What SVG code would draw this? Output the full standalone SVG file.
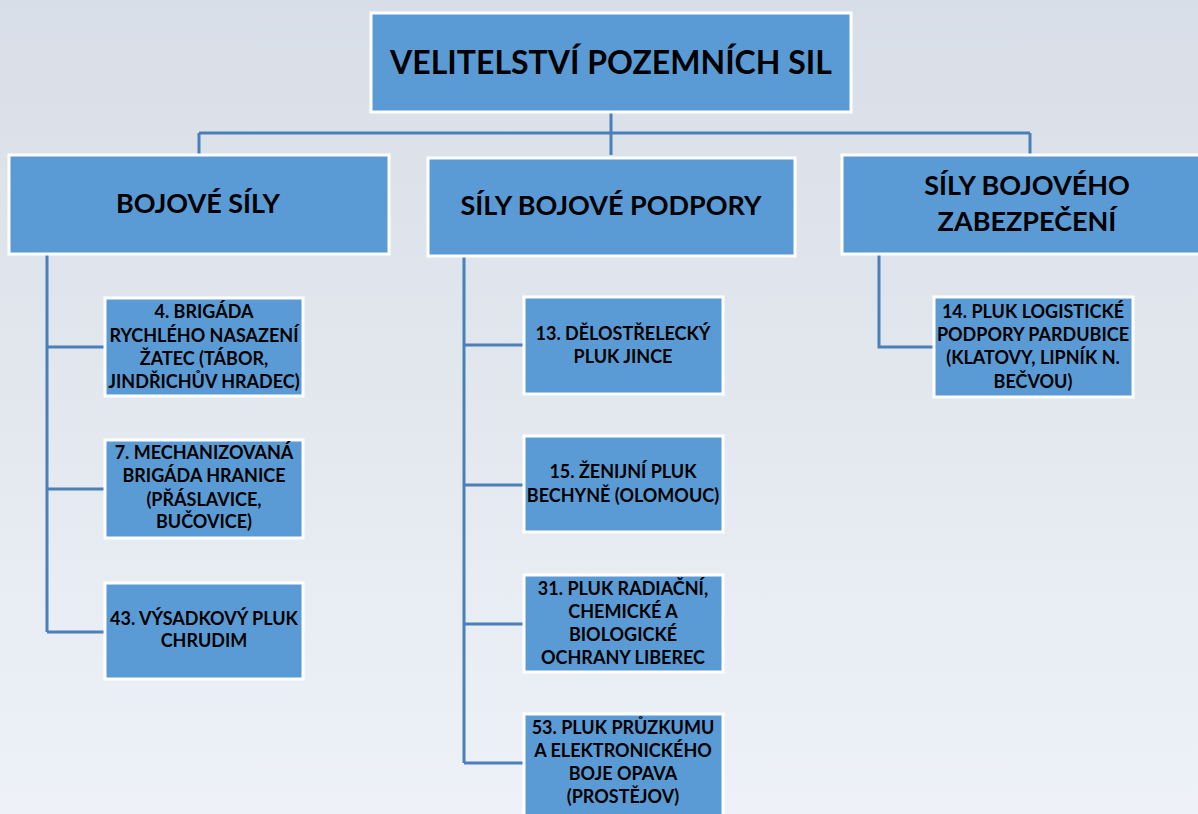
<svg xmlns="http://www.w3.org/2000/svg" width="1198" height="814" viewBox="0 0 1198 814">
<defs>
<linearGradient id="bg" x1="0" y1="0" x2="0" y2="1">
<stop offset="0" stop-color="#D8DEE7"/>
<stop offset="0.5" stop-color="#E3E8EF"/>
<stop offset="1" stop-color="#EEF2F8"/>
</linearGradient>
<style>
.box{fill:#5B9BD5;stroke:#FFFFFF;stroke-width:3}
.conn{fill:none;stroke:#4A7FB8;stroke-width:3}
text{font-family:Lato,"Liberation Sans",sans-serif;font-weight:bold;fill:#000;text-anchor:middle}
.t1{font-size:32px}
.t2{font-size:27px}
.t3{font-size:18px}
</style>
</defs>
<rect x="0" y="0" width="1198" height="814" fill="url(#bg)"/>
<g id="connectors">
<path class="conn" d="M611 113 V155 M199 133 H1030 M199 133 V154 M1030 133 V154"/>
<path class="conn" d="M47 255 V632 M47 347 H104 M47 489 H104 M47 632 H104"/>
<path class="conn" d="M464 257 V763 M464 345 H523 M464 485 H523 M464 624 H523 M464 763 H523"/>
<path class="conn" d="M879 255 V347 H933"/>
</g>
<g id="root"><rect class="box" x="371" y="13" width="480" height="99"/><text class="t1" x="611" y="74">VELITELSTVÍ POZEMNÍCH SIL</text></g>
<g id="bojove"><rect class="box" x="9" y="155" width="380" height="99"/><text class="t2" x="198" y="213">BOJOVÉ SÍLY</text></g>
<g id="podpora"><rect class="box" x="428" y="158" width="367" height="98"/><text class="t2" x="611" y="215">SÍLY BOJOVÉ PODPORY</text></g>
<g id="zabezpeceni"><rect class="box" x="842" y="155" width="360" height="99"/><text class="t2" x="1027" y="195">SÍLY BOJOVÉHO</text><text class="t2" x="1027" y="231">ZABEZPEČENÍ</text></g>
<g id="b4"><rect class="box" x="105" y="298" width="198" height="98"/><text class="t3"><tspan x="204" y="318">4. BRIGÁDA</tspan><tspan x="204" y="342">RYCHLÉHO NASAZENÍ</tspan><tspan x="204" y="365">ŽATEC (TÁBOR,</tspan><tspan x="204" y="388">JINDŘICHŮV HRADEC)</tspan></text></g>
<g id="b7"><rect class="box" x="105" y="440" width="198" height="98"/><text class="t3"><tspan x="204" y="459">7. MECHANIZOVANÁ</tspan><tspan x="204" y="482">BRIGÁDA HRANICE</tspan><tspan x="204" y="506">(PŘÁSLAVICE,</tspan><tspan x="204" y="528">BUČOVICE)</tspan></text></g>
<g id="p43"><rect class="box" x="105" y="583" width="198" height="96"/><text class="t3"><tspan x="204" y="625">43. VÝSADKOVÝ PLUK</tspan><tspan x="204" y="647">CHRUDIM</tspan></text></g>
<g id="p13"><rect class="box" x="524" y="297" width="199" height="97"/><text class="t3"><tspan x="623" y="340">13. DĚLOSTŘELECKÝ</tspan><tspan x="623" y="363">PLUK JINCE</tspan></text></g>
<g id="p15"><rect class="box" x="524" y="436" width="199" height="96"/><text class="t3"><tspan x="623" y="478">15. ŽENIJNÍ PLUK</tspan><tspan x="623" y="502">BECHYNĚ (OLOMOUC)</tspan></text></g>
<g id="p31"><rect class="box" x="524" y="575" width="199" height="97"/><text class="t3"><tspan x="623" y="595">31. PLUK RADIAČNÍ,</tspan><tspan x="623" y="618">CHEMICKÉ A</tspan><tspan x="623" y="641">BIOLOGICKÉ</tspan><tspan x="623" y="664">OCHRANY LIBEREC</tspan></text></g>
<g id="p53"><rect class="box" x="524" y="714" width="199" height="110"/><text class="t3"><tspan x="623" y="734">53. PLUK PRŮZKUMU</tspan><tspan x="623" y="757">A ELEKTRONICKÉHO</tspan><tspan x="623" y="780">BOJE OPAVA</tspan><tspan x="623" y="803">(PROSTĚJOV)</tspan></text></g>
<g id="p14"><rect class="box" x="934" y="297" width="199" height="100"/><text class="t3"><tspan x="1033" y="318">14. PLUK LOGISTICKÉ</tspan><tspan x="1033" y="341">PODPORY PARDUBICE</tspan><tspan x="1033" y="364">(KLATOVY, LIPNÍK N.</tspan><tspan x="1033" y="388">BEČVOU)</tspan></text></g>
</svg>
